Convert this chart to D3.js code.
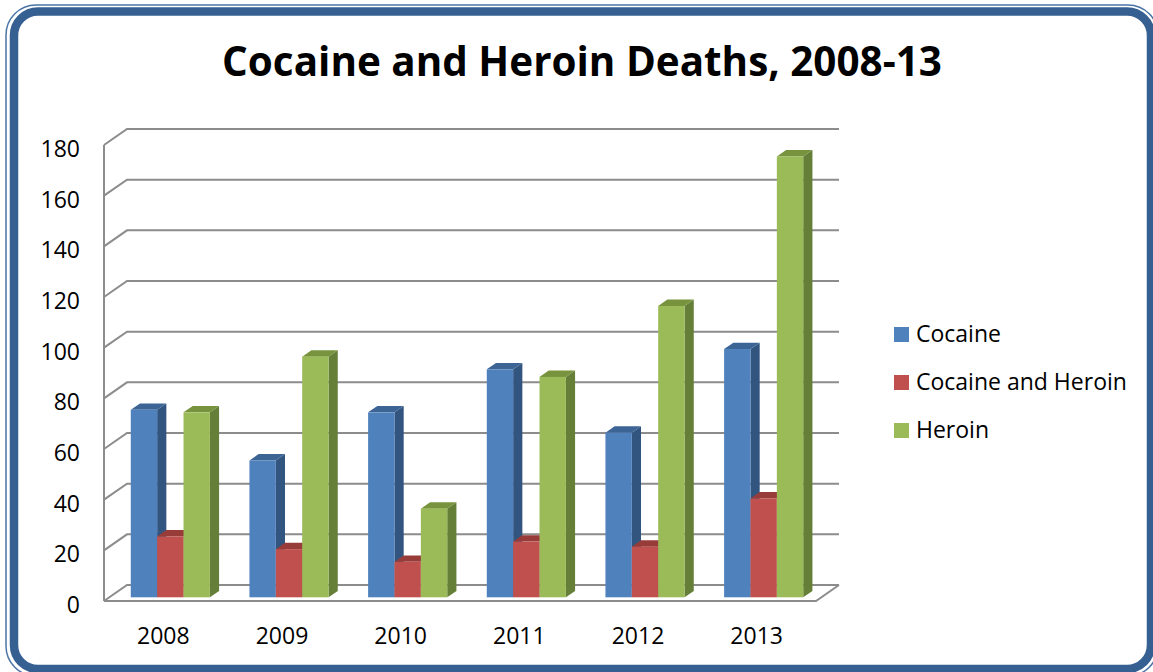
<!DOCTYPE html>
<html>
<head>
<meta charset="utf-8">
<script src="https://cdn.jsdelivr.net/npm/d3@7"></script>
<style>
  html, body { margin: 0; padding: 0; background: #ffffff; }
  svg { display: block; font-family: "Open Sans", "DejaVu Sans", sans-serif; }
</style>
</head>
<body>
<svg id="chart" width="1153" height="672"></svg>
<script>
// ---- data ----
const title = "Cocaine and Heroin Deaths, 2008-13";
const years = ["2008", "2009", "2010", "2011", "2012", "2013"];
const seriesNames = ["Cocaine", "Cocaine and Heroin", "Heroin"];
const cocaine = [74, 54, 73, 90, 65, 98];
const cocaineAndHeroin = [24, 19, 14, 22, 20, 39];
const heroin = [73, 95, 35, 87, 115, 174];
const yTicks = [0, 20, 40, 60, 80, 100, 120, 140, 160, 180];

const seriesValues = [cocaine, cocaineAndHeroin, heroin];
const palette = {
  "Cocaine": { front: "#4f81bd", top: "#3c6596", side: "#31557f" },
  "Cocaine and Heroin": { front: "#c0504d", top: "#983c39", side: "#8e3633" },
  "Heroin": { front: "#9bbb59", top: "#78933d", side: "#667f38" }
};

const svg = d3.select("#chart");

// ---- frame ----
svg.append("rect").attr("x", 6).attr("y", 5).attr("width", 1152).attr("height", 671)
  .attr("rx", 30).attr("fill", "none").attr("stroke", "#4a74a6").attr("stroke-width", 1.5);
svg.append("rect").attr("x", 14).attr("y", 11.5).attr("width", 1137).attr("height", 657.5)
  .attr("rx", 24).attr("fill", "#ffffff").attr("stroke", "#376092").attr("stroke-width", 8.5);

// ---- geometry ----
const x0 = 104, x1 = 816;          // front floor edge
const floorY = 601;                // front floor y
const depthDX = 23, depthDY = -16; // wall depth offset
const plotH = 456;

const y = d3.scaleLinear().domain([0, 180]).range([0, plotH]);
const xBand = d3.scaleBand().domain(years).range([x0, x1]).paddingInner(1 / 3).paddingOuter(1 / 6);
const xSub = d3.scaleBand().domain(seriesNames).range([0, xBand.bandwidth()]);

const gridColor = "#8c8c8c";
const grid = svg.append("g").attr("stroke", gridColor).attr("stroke-width", 2).attr("fill", "none");

// back wall gridlines + left wall diagonals
yTicks.forEach(v => {
  const yf = floorY - y(v);
  const yb = yf + depthDY;
  grid.append("path").attr("d", `M${x0},${yf}L${x0 + depthDX},${yb}L${x1 + depthDX},${yb}`);
});
// front vertical axis
grid.append("line").attr("x1", x0).attr("x2", x0).attr("y1", floorY).attr("y2", floorY - y(180));
// floor front edge + right diagonal
grid.append("path").attr("d", `M${x0},${floorY}L${x1},${floorY}L${x1 + depthDX},${floorY + depthDY}`);

// ---- bars ----
const fOffX = 7, fOffY = -3.7;   // front face offset inside depth
const bDX = 9.2, bDY = -6.4;     // bar depth
const bars = svg.append("g");
years.forEach((yr, i) => {
  seriesNames.forEach((s, j) => {
    const v = seriesValues[j][i];
    const c = palette[s];
    const xl = xBand(yr) + xSub(s) + fOffX;
    const w = xSub.bandwidth();
    const yb = floorY + fOffY;
    const yt = yb - y(v);
    // side face
    bars.append("path")
      .attr("d", `M${xl + w},${yb}L${xl + w + bDX},${yb + bDY}L${xl + w + bDX},${yt + bDY}L${xl + w},${yt}Z`)
      .attr("fill", c.side);
    // top face
    bars.append("path")
      .attr("d", `M${xl},${yt}L${xl + bDX},${yt + bDY}L${xl + w + bDX},${yt + bDY}L${xl + w},${yt}Z`)
      .attr("fill", c.top);
    // front face
    bars.append("rect").attr("x", xl).attr("y", yt).attr("width", w).attr("height", yb - yt)
      .attr("fill", c.front);
  });
});

// ---- axis labels ----
const labelFont = 23;
svg.append("g").selectAll("text").data(yTicks).join("text")
  .attr("x", 80).attr("y", d => floorY - y(d) + 12)
  .attr("text-anchor", "end").attr("font-size", labelFont).attr("fill", "#000")
  .text(d => d);

svg.append("g").selectAll("text").data(years).join("text")
  .attr("x", d => xBand(d) + xBand.bandwidth() / 2).attr("y", 644)
  .attr("text-anchor", "middle").attr("font-size", labelFont).attr("fill", "#000")
  .text(d => d);

// ---- title ----
const t = svg.append("text").attr("x", 582).attr("y", 76)
  .attr("text-anchor", "middle").attr("font-weight", "bold").attr("font-size", 40).attr("fill", "#000")
  .text(title);
const tw = t.node().getComputedTextLength();
t.attr("font-size", 40 * 720 / tw);

// ---- legend ----
const legend = svg.append("g");
seriesNames.forEach((s, j) => {
  const by = 342 + j * 48;
  legend.append("rect").attr("x", 894).attr("y", by - 15).attr("width", 15).attr("height", 15)
    .attr("fill", palette[s].front);
  legend.append("text").attr("x", 916).attr("y", by).attr("font-size", labelFont).attr("fill", "#000")
    .text(s);
});
</script>
</body>
</html>
